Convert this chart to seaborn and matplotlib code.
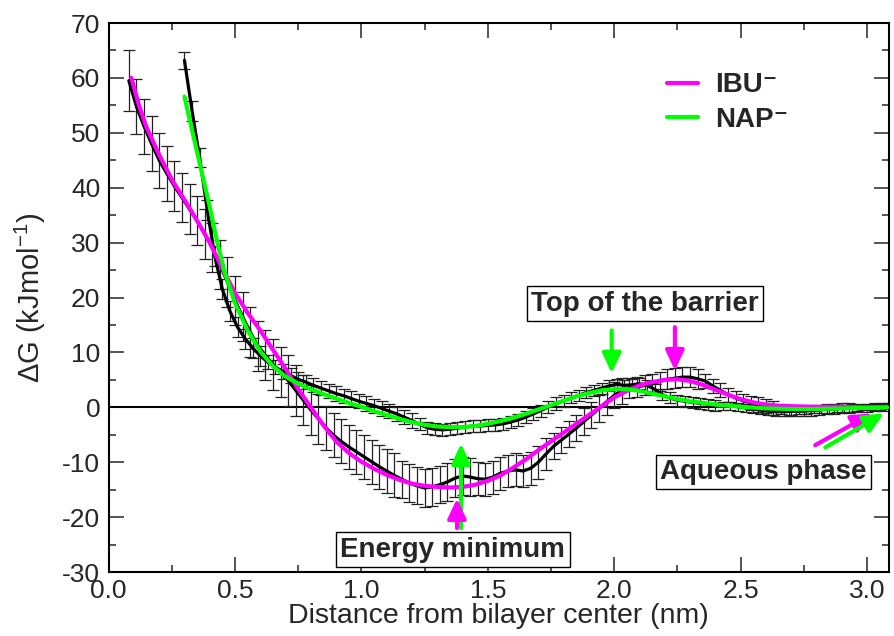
import numpy as np
import pandas as pd
import matplotlib
matplotlib.use("Agg")
import matplotlib.pyplot as plt
import seaborn as sns

# ---------------- data ----------------
# raw PMF profiles (black with error bars), sampled every 0.03 nm
ibu_raw_x0, nap_raw_x0, raw_step = 0.08, 0.30, 0.03
ibu_raw = [59.5, 54.8, 51.2, 48.0, 45.0, 42.6, 40.3, 38.2, 36.1, 34.0,
           31.6, 29.1, 26.0, 22.8, 19.5, 16.5, 13.7, 11.2, 9.5, 7.8,
           6.4, 4.9, 3.1, 1.3, -0.5, -2.1, -3.7, -5.1, -6.2, -7.2,
           -8.1, -9.0, -9.9, -10.8, -11.6, -12.4, -13.1, -13.8, -14.3, -14.7,
           -14.5, -14.1, -13.6, -12.9, -12.5, -12.7, -13.0, -13.1, -12.7, -12.0,
           -11.6, -11.4, -11.6, -11.1, -10.0, -8.5, -7.1, -6.0, -4.9, -3.8,
           -2.6, -1.4, -0.2, 1.0, 2.2, 3.0, 3.5, 3.7, 4.0, 4.3,
           4.7, 5.1, 5.3, 5.5, 5.5, 5.2, 4.8, 3.9, 3.1, 2.3,
           1.7, 1.2, 0.8, 0.5, 0.2, -0.1, -0.4, -0.6, -0.7, -0.7,
           -0.6, -0.5, -0.3, -0.3, -0.2, -0.1, -0.1, 0.0, 0.1, 0.1, 0.2]
ibu_err = [5.6, 5.0, 5.0, 5.0, 5.0, 5.0, 4.5, 4.5, 4.5, 4.5,
           4.5, 4.5, 4.5, 4.5, 4.5, 4.5, 4.6, 4.6, 4.6, 4.6,
           4.6, 4.6, 4.6, 4.6, 4.6, 4.6, 4.0, 4.0, 4.0, 4.0,
           4.0, 4.0, 4.0, 4.0, 4.0, 4.0, 3.4, 3.4, 3.4, 3.4,
           3.4, 3.4, 3.4, 3.4, 3.4, 3.4, 3.0, 3.0, 3.0, 3.0,
           3.0, 3.0, 3.0, 3.0, 3.0, 3.0, 2.4, 2.4, 2.4, 2.4,
           2.4, 2.4, 2.4, 2.4, 2.4, 2.4, 1.8, 1.8, 1.8, 1.8,
           1.8, 1.8, 1.8, 1.8, 1.8, 1.8, 1.3, 1.3, 1.3, 1.3,
           1.3, 1.3, 1.3, 1.3, 1.3, 1.3, 0.9, 0.9, 0.9, 0.9,
           0.9, 0.9, 0.9, 0.9, 0.9, 0.9, 0.5, 0.5, 0.5, 0.5, 0.5]
nap_raw = [63.2, 54.0, 45.5, 36.0, 27.5, 21.5, 17.5, 14.6, 12.5, 10.8,
           9.4, 8.2, 7.3, 6.5, 5.8, 5.1, 4.6, 4.0, 3.5, 3.0,
           2.5, 2.1, 1.6, 1.1, 0.7, 0.3, -0.2, -0.7, -1.2, -1.8,
           -2.4, -3.1, -3.7, -4.0, -4.1, -4.0, -3.8, -3.6, -3.4, -3.4,
           -3.3, -3.2, -3.0, -2.7, -2.3, -1.8, -1.2, -0.6, 0.1, 0.7,
           1.2, 1.7, 2.2, 2.7, 3.1, 3.5, 3.9, 4.2, 4.0, 4.1,
           4.3, 4.0, 3.3, 2.3, 1.7, 1.3, 1.1, 0.9, 0.7, 0.6,
           0.4, 0.3, 0.3, 0.1, -0.1, -0.3, -0.5, -0.7, -0.8, -0.8,
           -0.7, -0.6, -0.5, -0.4, -0.4, -0.3, -0.2, -0.2, -0.1, -0.1,
           -0.1, 0.0, 0.0]
nap_err = [1.5, 1.8, 1.8, 1.8, 1.8, 1.8, 1.8, 1.8, 1.8, 1.8,
           1.8, 1.3, 1.3, 1.3, 1.3, 1.3, 1.3, 1.3, 1.3, 1.3,
           1.3, 1.3, 1.3, 1.3, 1.3, 1.3, 1.3, 1.3, 1.3, 1.3,
           1.3, 1.1, 1.1, 1.1, 1.1, 1.1, 1.1, 1.1, 1.1, 1.1,
           1.1, 1.1, 1.1, 1.1, 1.1, 1.1, 1.1, 1.1, 1.1, 1.1,
           1.1, 1.0, 1.0, 1.0, 1.0, 1.0, 1.0, 1.0, 1.0, 1.0,
           1.0, 1.0, 1.0, 1.0, 1.0, 1.0, 1.0, 1.0, 1.0, 1.0,
           1.0, 0.7, 0.7, 0.7, 0.7, 0.7, 0.7, 0.7, 0.7, 0.7,
           0.7, 0.7, 0.7, 0.7, 0.7, 0.7, 0.7, 0.7, 0.7, 0.7,
           0.7, 0.7, 0.7]

# smooth fitted curves
ibu_fit_x = [0.09, 0.12, 0.15, 0.20, 0.25, 0.30, 0.35, 0.40, 0.45, 0.50,
             0.55, 0.60, 0.65, 0.70, 0.75, 0.80, 0.85, 0.90, 0.95, 1.00,
             1.05, 1.10, 1.15, 1.20, 1.25, 1.30, 1.35, 1.40, 1.45, 1.50,
             1.55, 1.60, 1.65, 1.70, 1.75, 1.80, 1.85, 1.90, 1.95, 2.00,
             2.05, 2.10, 2.15, 2.20, 2.25, 2.30, 2.35, 2.40, 2.45, 2.50,
             2.55, 2.60, 2.65, 2.70, 2.80, 2.90, 3.00, 3.08]
ibu_fit_y = [60.0, 55.0, 51.0, 46.0, 41.5, 37.8, 34.0, 30.0, 25.3, 20.8,
             17.2, 14.0, 10.5, 7.0, 3.3, 0.0, -3.3, -6.2, -8.3, -9.9,
             -11.2, -12.3, -13.2, -13.9, -14.3, -14.5, -14.6, -14.5, -14.1, -13.4,
             -12.4, -11.0, -9.5, -7.8, -6.2, -4.6, -3.0, -1.4, 0.2, 1.8,
             3.0, 4.0, 4.6, 5.0, 5.1, 4.8, 4.1, 3.2, 2.3, 1.5,
             0.9, 0.5, 0.3, 0.2, 0.1, 0.1, 0.0, 0.0]
nap_fit_x = [0.30, 0.33, 0.36, 0.40, 0.43, 0.46, 0.50, 0.55, 0.60, 0.65,
             0.70, 0.75, 0.80, 0.85, 0.90, 0.95, 1.00, 1.05, 1.10, 1.15,
             1.20, 1.25, 1.30, 1.35, 1.40, 1.45, 1.50, 1.55, 1.60, 1.65,
             1.70, 1.75, 1.80, 1.85, 1.90, 1.95, 2.00, 2.05, 2.10, 2.15,
             2.20, 2.25, 2.30, 2.35, 2.40, 2.50, 2.60, 2.70, 2.80, 2.90,
             3.00, 3.08]
nap_fit_y = [56.6, 50.5, 44.5, 36.5, 30.0, 24.4, 19.0, 14.0, 10.2, 7.5,
             5.6, 4.3, 3.3, 2.4, 1.6, 0.8, 0.1, -0.7, -1.4, -2.1,
             -2.7, -3.2, -3.5, -3.6, -3.6, -3.4, -3.0, -2.5, -1.9, -1.2,
             -0.4, 0.4, 1.2, 2.0, 2.6, 3.1, 3.3, 3.3, 3.0, 2.5,
             2.0, 1.5, 1.1, 0.8, 0.5, 0.1, -0.2, -0.3, -0.3, -0.2,
             -0.1, 0.0]

x_ticks = [0.0, 0.5, 1.0, 1.5, 2.0, 2.5, 3.0]
y_ticks = [-30, -20, -10, 0, 10, 20, 30, 40, 50, 60, 70]
series_labels = ["IBU\u207b", "NAP\u207b"]
MAG, GRN = "#ff00ff", "#00ff00"

# ---------------- style ----------------
sns.set_theme(style="ticks")
plt.rcParams["font.family"] = ["Liberation Sans", "DejaVu Sans"]
plt.rcParams["mathtext.fontset"] = "custom"
plt.rcParams["mathtext.rm"] = "Liberation Sans"
plt.rcParams["mathtext.it"] = "Liberation Sans:italic"
plt.rcParams["mathtext.bf"] = "Liberation Sans:bold"
plt.rcParams["axes.unicode_minus"] = False

fig = plt.figure(figsize=(8.94, 6.36), dpi=100)
ax = fig.add_axes([0.1215, 0.1006, 0.8729, 0.8632])

ibu_x = ibu_raw_x0 + raw_step * np.arange(len(ibu_raw))
nap_x = nap_raw_x0 + raw_step * np.arange(len(nap_raw))

ax.axhline(0, color="black", lw=1.5, zorder=1)

for xs, ys, es in [(ibu_x, ibu_raw, ibu_err), (nap_x, nap_raw, nap_err)]:
    ax.errorbar(xs, ys, yerr=es, fmt="none", ecolor="#222222", elinewidth=0.9,
                capsize=4.5, capthick=0.9, zorder=2)
    ax.plot(xs, ys, color="black", lw=2.3, zorder=3)

df = pd.concat([
    pd.DataFrame({"x": ibu_fit_x, "y": ibu_fit_y, "s": series_labels[0]}),
    pd.DataFrame({"x": nap_fit_x, "y": nap_fit_y, "s": series_labels[1]}),
])
sns.lineplot(data=df, x="x", y="y", hue="s", palette=[MAG, GRN], lw=3,
             estimator=None, sort=False, ax=ax, zorder=4)

ax.set_xlim(0, 3.087)
ax.set_ylim(-30, 70)
ax.set_xticks(x_ticks)
ax.set_xticklabels([f"{v:.1f}" for v in x_ticks])
ax.set_yticks(y_ticks)
ax.set_xticks(np.arange(0.25, 3.1, 0.5), minor=True)
ax.set_yticks(np.arange(-25, 70, 10), minor=True)
ax.tick_params(which="both", direction="in", top=True, right=True, width=1.1)
ax.tick_params(axis="x", which="major", labelsize=19, pad=5)
ax.tick_params(axis="y", which="major", labelsize=19, pad=6)
ax.tick_params(which="major", length=11)
ax.tick_params(which="minor", length=5)
for sp in ax.spines.values():
    sp.set_linewidth(1.5)
    sp.set_color("black")

ax.set_xlabel("Distance from bilayer center (nm)", fontsize=20.5, va="top")
ax.xaxis.set_label_coords(0.5, -0.056)
ax.set_ylabel("\u0394G (kJmol$^{-1}$)", fontsize=21, labelpad=10)

leg = ax.legend(loc="upper left", bbox_to_anchor=(0.7155, 0.91), frameon=False,
                handlelength=1.12, handletextpad=0.6, labelspacing=0.3,
                borderpad=0, borderaxespad=0,
                prop={"size": 20, "weight": "bold"})
for h in leg.get_lines():
    h.set_linewidth(3)

box = dict(boxstyle="square,pad=0.15", fc="white", ec="black", lw=1.0)
ax.text(2.12, 18.9, "Top of the barrier", fontsize=20, fontweight="bold",
        ha="center", va="center", bbox=box, zorder=6)
ax.text(2.59, -11.8, "Aqueous phase", fontsize=20, fontweight="bold",
        ha="center", va="center", bbox=box, zorder=6)
ax.text(1.362, -25.9, "Energy minimum", fontsize=20, fontweight="bold",
        ha="center", va="center", bbox=box, zorder=6)

def arrow(x0, y0, x1, y1, c):
    ax.annotate("", xy=(x1, y1), xytext=(x0, y0),
                arrowprops=dict(arrowstyle="-|>,head_length=0.6,head_width=0.28",
                                color=c, lw=3, shrinkA=0, shrinkB=0,
                                mutation_scale=20), zorder=7)

arrow(1.99, 14.0, 1.99, 6.2, GRN)
arrow(2.24, 14.6, 2.24, 6.7, MAG)
arrow(2.795, -6.9, 3.02, -1.1, MAG)
arrow(2.835, -7.3, 3.067, -1.1, GRN)
arrow(1.394, -22.0, 1.394, -6.6, GRN)
arrow(1.378, -22.0, 1.378, -16.6, MAG)

fig.savefig("out.png", dpi=100)
